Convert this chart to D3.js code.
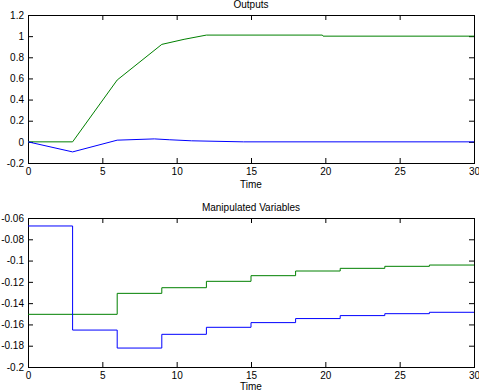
<!DOCTYPE html>
<html><head><meta charset="utf-8">
<script src="https://cdn.jsdelivr.net/npm/d3@7"></script>
<style>
body{margin:0;background:#fff;}
text{font-family:"Liberation Sans",Arial,Helvetica,sans-serif;font-size:10px;fill:#000;}
</style></head><body>
<svg id="c" width="479" height="391"></svg>
<script>
// ---- data ----
const xTicks = [0,5,10,15,20,25,30];
const yTicksTop = [-0.2,0,0.2,0.4,0.6,0.8,1,1.2];
const yTicksBot = [-0.2,-0.18,-0.16,-0.14,-0.12,-0.1,-0.08,-0.06];

// Outputs (continuous)
const outT = [0,3,6,9,10.5,12,19.8,19.85,30];
const outGreen = [0,0,0.585,0.922,0.97,1.01,1.01,1.0,1.0];
const outBlueT = [0,3,6,8.5,9.5,11,14.5,30];
const outBlue = [0,-0.095,0.016,0.028,0.02,0.01,0.0,0.0];

// Manipulated variables (zero-order hold, step every 3)
const mvT = [0,3,6,9,12,15,18,21,24,27,30];
const mvBlue = [-0.0675,-0.1653,-0.1822,-0.1693,-0.1627,-0.1583,-0.1545,-0.1517,-0.1499,-0.1486,-0.1486];
const mvGreen = [-0.1505,-0.1505,-0.1308,-0.1255,-0.1195,-0.1142,-0.1098,-0.1073,-0.1054,-0.1042,-0.1042];

const svg = d3.select("#c");
const x = d3.scaleLinear().domain([0,30]).range([28,474]);

function panel(y, yTicks, title, titleY, xlabY){
  const [yb, yt] = y.range();
  const g = svg.append("g");
  const fmt = d => (d<0?"-":"") + String(Math.abs(+d.toFixed(2)));
  g.append("g").attr("transform",`translate(0,${yb})`)
    .call(d3.axisBottom(x).tickValues(xTicks).tickSizeInner(-5).tickSizeOuter(0).tickPadding(5).tickFormat(d=>d));
  g.append("g").attr("transform",`translate(0,${yt})`)
    .call(d3.axisTop(x).tickValues(xTicks).tickSizeInner(-5).tickSizeOuter(0).tickFormat(""));
  g.append("g").attr("transform",`translate(${x.range()[0]},0)`)
    .call(d3.axisLeft(y).tickValues(yTicks).tickSizeInner(-5).tickSizeOuter(0).tickPadding(4).tickFormat(fmt));
  g.append("g").attr("transform",`translate(${x.range()[1]},0)`)
    .call(d3.axisRight(y).tickValues(yTicks).tickSizeInner(-5).tickSizeOuter(0).tickFormat(""));
  g.selectAll(".domain").remove();
  g.selectAll(".tick text").style("font-family",'"Liberation Sans",Arial,sans-serif').style("font-size","10px").attr("fill","#000");
  g.selectAll(".tick line").attr("stroke","#000");
  g.append("rect").attr("x",x.range()[0]+0.5).attr("y",yt+0.5)
    .attr("width",x.range()[1]-x.range()[0]).attr("height",yb-yt)
    .attr("fill","none").attr("stroke","#000");
  g.append("text").attr("x",(x.range()[0]+x.range()[1])/2).attr("y",titleY)
    .attr("text-anchor","middle").text(title);
  g.append("text").attr("x",(x.range()[0]+x.range()[1])/2).attr("y",xlabY)
    .attr("text-anchor","middle").text("Time");
  return g;
}

const y1 = d3.scaleLinear().domain([-0.2,1.2]).range([163,15]);
const g1 = panel(y1, yTicksTop, "Outputs", 7.5, 187.5);
const line1 = d3.line().x(d=>x(d[0])).y(d=>y1(d[1]));
g1.append("path").datum(outT.map((t,i)=>[t,outGreen[i]])).attr("d",line1)
  .attr("fill","none").attr("stroke","#008000").attr("stroke-width",1);
g1.append("path").datum(outBlueT.map((t,i)=>[t,outBlue[i]])).attr("d",line1)
  .attr("fill","none").attr("stroke","#0000ff").attr("stroke-width",1);

const y2 = d3.scaleLinear().domain([-0.2,-0.06]).range([367,218]);
const g2 = panel(y2, yTicksBot, "Manipulated Variables", 211, 390);
const line2 = d3.line().curve(d3.curveStepAfter).x(d=>x(d[0])).y(d=>y2(d[1]));
g2.append("path").datum(mvT.map((t,i)=>[t,mvGreen[i]])).attr("d",line2)
  .attr("fill","none").attr("stroke","#008000").attr("stroke-width",1);
g2.append("path").datum(mvT.map((t,i)=>[t,mvBlue[i]])).attr("d",line2)
  .attr("fill","none").attr("stroke","#0000ff").attr("stroke-width",1);
</script>
</body></html>
